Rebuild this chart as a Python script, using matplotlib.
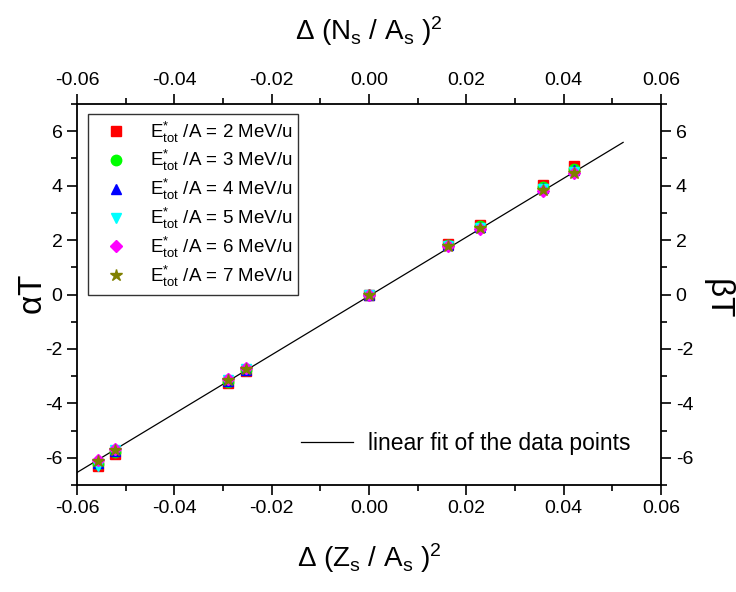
import numpy as np
import matplotlib
matplotlib.use("Agg")
import matplotlib.pyplot as plt
from matplotlib.ticker import MultipleLocator, FormatStrFormatter

plt.rcParams['font.family'] = ['Liberation Sans', 'DejaVu Sans']
plt.rcParams['mathtext.fontset'] = 'custom'
plt.rcParams['mathtext.rm'] = 'Liberation Sans'
plt.rcParams['mathtext.it'] = 'Liberation Sans:italic'
plt.rcParams['axes.unicode_minus'] = False

# data
dz2 = [-0.0557, -0.0522, -0.0290, -0.0253, 0.0, 0.0163, 0.0229, 0.0357, 0.0421]
e2 = [-6.30, -5.85, -3.25, -2.82, 0.0, 1.87, 2.55, 4.02, 4.72]
e3 = [-6.22, -5.78, -3.20, -2.78, 0.0, 1.83, 2.50, 3.95, 4.62]
e4 = [-6.18, -5.75, -3.18, -2.76, 0.0, 1.81, 2.47, 3.90, 4.57]
e5 = [-6.30, -5.72, -3.15, -2.74, 0.0, 1.79, 2.45, 3.86, 4.52]
e6 = [-6.08, -5.66, -3.12, -2.71, 0.0, 1.77, 2.42, 3.80, 4.45]
e7 = [-6.12, -5.70, -3.14, -2.73, 0.0, 1.78, 2.43, 3.83, 4.48]
energies = [2, 3, 4, 5, 6, 7]

fit_x = [-0.06, 0.0522]
fit_y = [-6.54, 5.59]

series = [e2, e3, e4, e5, e6, e7]
markers = ['s', 'o', '^', 'v', 'D', '*']
colors = ['#ff0000', '#00ff00', '#0000ff', '#00ffff', '#ff00ff', '#808000']
sizes = [7, 7.5, 7.5, 7.5, 6.5, 9]

fig = plt.figure(figsize=(7.36, 5.92), dpi=100)
ax = fig.add_axes([0.1046, 0.1807, 0.7936, 0.6436])

handles = []
for ys, m, c, s, e in zip(series, markers, colors, sizes, energies):
    h, = ax.plot(dz2, ys, linestyle='none', marker=m, color=c, ms=s, mec=c,
                 label=r'$\mathregular{E^{*}_{tot}}$ /A = %d MeV/u' % e, zorder=3)
    handles.append(h)

fit, = ax.plot(fit_x, fit_y, color='black', lw=0.9, zorder=2,
               label='linear fit of the data points')

ax.set_xlim(-0.06, 0.06)
ax.set_ylim(-7, 7)
ax.xaxis.set_major_locator(MultipleLocator(0.02))
ax.xaxis.set_minor_locator(MultipleLocator(0.01))
ax.yaxis.set_major_locator(MultipleLocator(2))
ax.yaxis.set_minor_locator(MultipleLocator(1))
ax.xaxis.set_major_formatter(FormatStrFormatter('%.2f'))

ax.tick_params(which='both', direction='out', top=True, right=True,
               labeltop=True, labelright=True, labelsize=14, width=1.2)
ax.tick_params(which='major', length=7)
ax.tick_params(which='minor', length=4)
for sp in ax.spines.values():
    sp.set_linewidth(1.3)

ax.set_xlabel(r'$\mathregular{\Delta\ (Z_s\ /\ A_s\ )^2}$', fontsize=20, labelpad=18)
ax.set_ylabel(r'$\mathregular{\alpha T}$', fontsize=24, labelpad=-3)

fig.text(0.501, 0.947, r'$\mathregular{\Delta\ (N_s\ /\ A_s\ )^2}$', fontsize=20,
         ha='center', va='center')
fig.text(0.977, 0.5, r'$\mathregular{\beta T}$', fontsize=24, rotation=-90,
         ha='center', va='center')

leg1 = ax.legend(handles=handles, loc='upper left', fontsize=13.5,
                 bbox_to_anchor=(0.019, 0.974), borderaxespad=0,
                 frameon=True, fancybox=False, edgecolor='black',
                 handletextpad=0.6, labelspacing=0.2, borderpad=0.3,
                 handlelength=2.4)
leg1.get_frame().set_linewidth(1.0)
ax.add_artist(leg1)
ax.legend(handles=[fit], loc='center left', fontsize=16.5, frameon=False,
          bbox_to_anchor=(0.3836, 0.110), borderaxespad=0, borderpad=0,
          handlelength=2.27, handletextpad=0.66)

fig.savefig('out.png', dpi=100)
